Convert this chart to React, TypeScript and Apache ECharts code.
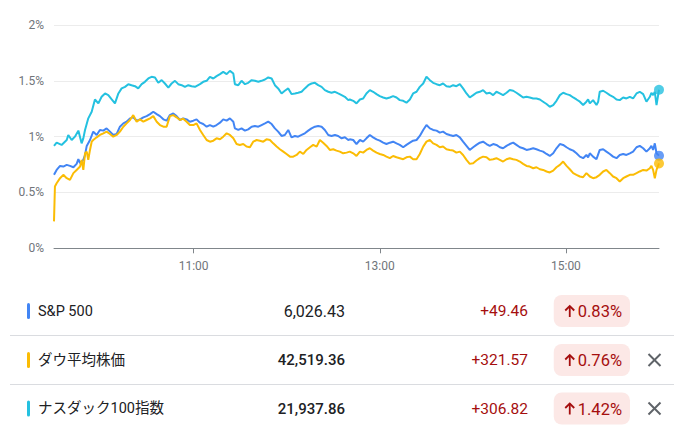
import React, { useEffect, useRef } from "react";
import * as echarts from "echarts";

// minutes since 9:30 open, % change
const sp500: [number, number][] = [
  [0, 0.658], [1.7, 0.702], [3.9, 0.738], [6.0, 0.732], [8.2, 0.747], [10.3, 0.738], [12.5, 0.726], [14.6, 0.756],
  [15.7, 0.798], [16.8, 0.762], [18.9, 0.792], [20.0, 0.836], [21.1, 0.917], [23.2, 0.970], [25.3, 1.045], [27.5, 1.015],
  [29.6, 1.060], [31.8, 1.054], [33.9, 1.074], [36.1, 1.045], [38.2, 1.015], [40.4, 1.024], [42.5, 1.089], [44.7, 1.119],
  [46.8, 1.134], [49.0, 1.164], [51.1, 1.173], [53.3, 1.143], [55.4, 1.155], [57.6, 1.173], [59.7, 1.184], [61.9, 1.202],
  [64.0, 1.223], [66.2, 1.202], [68.3, 1.184], [70.5, 1.155], [72.6, 1.143], [74.7, 1.193], [76.9, 1.208], [79.0, 1.184],
  [81.2, 1.149], [83.3, 1.164], [85.5, 1.155], [87.6, 1.134], [89.8, 1.143], [91.9, 1.155],
  [94.1, 1.125], [96.2, 1.113], [98.4, 1.089], [100.5, 1.104], [102.7, 1.089], [104.8, 1.104], [107.0, 1.125], [109.1, 1.155],
  [111.3, 1.143], [113.4, 1.164], [115.6, 1.134], [116.6, 1.074], [118.8, 1.060], [120.9, 1.074], [123.1, 1.054], [125.2, 1.065],
  [127.4, 1.089], [129.5, 1.095], [131.7, 1.089], [133.8, 1.104], [136.0, 1.119], [138.1, 1.134], [140.3, 1.113], [142.4, 1.074],
  [144.5, 1.045], [146.7, 1.006], [148.8, 1.015], [151.0, 1.060], [153.1, 0.994], [155.3, 1.006], [157.4, 1.000], [159.6, 1.015],
  [161.7, 1.030], [163.9, 1.054], [166.0, 1.074], [168.2, 1.089], [170.3, 1.095], [172.5, 1.089], [174.6, 1.060], [176.8, 1.015],
  [178.9, 1.006], [181.1, 1.015], [183.2, 1.006], [185.4, 0.985], [187.5, 0.994], [189.7, 0.970],
  [190.7, 0.976], [192.9, 0.970], [195.0, 0.934], [197.2, 0.970], [199.3, 0.955], [201.4, 0.985], [203.6, 1.015], [205.7, 0.994],
  [207.9, 0.976], [210.0, 0.964], [212.2, 0.946], [214.3, 0.934], [216.5, 0.946], [218.6, 0.955], [220.8, 0.940], [222.9, 0.926],
  [225.1, 0.905], [227.2, 0.926], [229.4, 0.946], [231.5, 0.964], [233.7, 0.970], [235.8, 1.006], [238.0, 1.060], [240.1, 1.104],
  [242.3, 1.074], [244.4, 1.060], [246.6, 1.054], [248.7, 1.036], [250.8, 1.045], [253.0, 1.024], [255.1, 1.015], [257.3, 1.006],
  [259.4, 1.015], [261.6, 0.994], [263.7, 0.955], [265.9, 0.917], [268.0, 0.881], [270.2, 0.905], [272.3, 0.926], [274.5, 0.946],
  [276.6, 0.955], [278.8, 0.934], [280.9, 0.917], [283.1, 0.934], [285.2, 0.926],
  [287.4, 0.905], [289.5, 0.896], [291.7, 0.917], [293.8, 0.934], [296.0, 0.946], [298.1, 0.926], [300.3, 0.905], [302.4, 0.896],
  [304.6, 0.881], [306.7, 0.887], [308.9, 0.896], [311.0, 0.887], [313.2, 0.875], [315.3, 0.866], [317.5, 0.845], [319.6, 0.827],
  [321.8, 0.851], [323.9, 0.896], [326.1, 0.934], [328.2, 0.926], [330.4, 0.905], [332.5, 0.887], [334.7, 0.875], [336.8, 0.851],
  [339.0, 0.821], [341.1, 0.807], [343.2, 0.836], [344.3, 0.815], [345.4, 0.851], [347.5, 0.821], [349.7, 0.798], [351.8, 0.881],
  [354.0, 0.887], [356.1, 0.866], [358.3, 0.845], [360.4, 0.821], [362.6, 0.807], [364.7, 0.836], [366.9, 0.845], [369.0, 0.836],
  [371.2, 0.851], [373.3, 0.866], [375.5, 0.905], [377.6, 0.917], [379.8, 0.896], [381.9, 0.866], [384.1, 0.896], [385.1, 0.917],
  [386.2, 0.881], [387.3, 0.940], [388.4, 0.851], [390, 0.83],
];

const dow: [number, number][] = [
  [0, 0.241], [0.6, 0.554], [1.7, 0.583], [3.9, 0.628], [6.0, 0.658], [8.2, 0.628], [10.3, 0.613], [12.5, 0.673],
  [14.6, 0.702], [16.8, 0.732], [17.8, 0.792], [18.9, 0.702], [20.0, 0.851], [21.1, 0.866], [22.1, 0.792], [23.2, 0.881],
  [24.3, 0.955], [25.3, 0.970], [27.5, 0.994], [29.6, 1.015], [31.8, 1.030], [33.9, 1.045], [36.1, 1.024], [38.2, 1.000],
  [40.4, 1.015], [42.5, 1.045], [44.7, 1.089], [46.8, 1.119], [49.0, 1.149], [51.1, 1.193], [53.3, 1.134], [55.4, 1.155],
  [57.6, 1.134], [59.7, 1.149], [61.9, 1.164], [64.0, 1.184], [66.2, 1.134], [68.3, 1.104], [70.5, 1.089], [72.6, 1.089],
  [74.7, 1.184], [76.9, 1.193], [79.0, 1.173], [81.2, 1.149], [83.3, 1.161], [85.5, 1.134], [87.6, 1.104], [89.8, 1.104], [91.9, 1.119],
  [94.1, 1.060], [96.2, 1.015], [98.4, 0.970], [100.5, 0.955], [102.7, 0.964], [104.8, 0.985], [107.0, 0.976], [109.1, 1.000],
  [111.3, 1.030], [113.4, 1.015], [115.6, 0.985], [117.7, 0.934], [119.8, 0.926], [122.0, 0.934], [124.1, 0.911], [126.3, 0.905],
  [128.4, 0.955], [130.6, 0.970], [132.7, 0.964], [134.9, 0.955], [137.0, 0.976], [139.2, 0.970], [141.3, 0.940], [143.5, 0.911],
  [145.6, 0.887], [147.8, 0.866], [149.9, 0.845], [152.1, 0.821], [154.2, 0.821], [156.4, 0.836], [158.5, 0.866], [160.7, 0.845],
  [162.8, 0.881], [165.0, 0.905], [167.1, 0.926], [169.3, 0.911], [171.4, 0.970], [173.5, 0.946], [175.7, 0.917], [177.8, 0.881],
  [180.0, 0.887], [182.1, 0.875], [184.3, 0.866], [186.4, 0.851], [188.6, 0.857],
  [190.7, 0.866], [192.9, 0.851], [195.0, 0.827], [197.2, 0.866], [199.3, 0.857], [201.4, 0.881], [203.6, 0.896], [205.7, 0.875],
  [207.9, 0.857], [210.0, 0.845], [212.2, 0.836], [214.3, 0.821], [216.5, 0.807], [218.6, 0.827], [220.8, 0.815], [222.9, 0.807],
  [225.1, 0.798], [227.2, 0.815], [229.4, 0.821], [231.5, 0.798], [233.7, 0.798], [235.8, 0.845], [238.0, 0.911], [240.1, 0.955],
  [242.3, 0.970], [244.4, 0.940], [246.6, 0.926], [248.7, 0.905], [250.8, 0.911], [253.0, 0.887], [255.1, 0.881], [257.3, 0.875],
  [259.4, 0.857], [261.6, 0.866], [263.7, 0.836], [265.9, 0.792], [268.0, 0.756], [270.2, 0.762], [272.3, 0.786], [274.5, 0.807],
  [276.6, 0.821], [278.8, 0.815], [280.9, 0.792], [283.1, 0.798], [285.2, 0.807],
  [287.4, 0.792], [289.5, 0.777], [291.7, 0.798], [293.8, 0.807], [296.0, 0.798], [298.1, 0.792], [300.3, 0.777], [302.4, 0.756],
  [304.6, 0.738], [306.7, 0.732], [308.9, 0.717], [311.0, 0.726], [313.2, 0.708], [315.3, 0.702], [317.5, 0.688], [319.6, 0.679],
  [321.8, 0.696], [323.9, 0.726], [326.1, 0.747], [328.2, 0.777], [330.4, 0.738], [332.5, 0.708], [334.7, 0.673], [336.8, 0.658],
  [339.0, 0.643], [341.1, 0.637], [343.2, 0.673], [344.3, 0.658], [345.4, 0.643], [347.5, 0.628], [349.7, 0.637], [351.8, 0.658],
  [354.0, 0.688], [356.1, 0.702], [358.3, 0.673], [360.4, 0.643], [362.6, 0.628], [364.7, 0.598], [366.9, 0.628], [369.0, 0.643],
  [371.2, 0.658], [373.3, 0.658], [375.5, 0.673], [377.6, 0.688], [379.8, 0.702], [381.9, 0.696], [384.1, 0.717], [385.1, 0.738],
  [386.2, 0.702], [387.3, 0.628], [388.4, 0.702], [390, 0.76],
];

const nasdaq100: [number, number][] = [
  [0, 0.917], [1.7, 0.946], [4.9, 0.926], [8.2, 0.970], [9.2, 1.015], [11.4, 0.970], [13.5, 1.000], [15.7, 1.054],
  [17.8, 0.940], [18.9, 0.985], [20.0, 1.060], [22.1, 1.164], [24.3, 1.223], [26.4, 1.333], [28.6, 1.298], [30.7, 1.357],
  [32.9, 1.387], [35.0, 1.372], [37.2, 1.333], [39.3, 1.298], [41.5, 1.387], [43.6, 1.432], [45.8, 1.446], [47.9, 1.470],
  [50.0, 1.461], [52.2, 1.452], [54.3, 1.432], [56.5, 1.470], [58.6, 1.491], [60.8, 1.521], [62.9, 1.536], [65.1, 1.530],
  [67.2, 1.482], [69.4, 1.506], [71.5, 1.476], [73.7, 1.440], [75.8, 1.476], [78.0, 1.500], [80.1, 1.470], [82.3, 1.461],
  [84.4, 1.446], [86.6, 1.461], [88.7, 1.452], [90.9, 1.446],
  [94.1, 1.470], [96.2, 1.491], [98.4, 1.500], [100.5, 1.536], [102.7, 1.521], [104.8, 1.542], [107.0, 1.560], [109.1, 1.580],
  [111.3, 1.560], [113.4, 1.589], [115.6, 1.565], [116.6, 1.470], [118.8, 1.461], [120.9, 1.500], [123.1, 1.470], [125.2, 1.482],
  [127.4, 1.506], [129.5, 1.500], [131.7, 1.491], [133.8, 1.500], [136.0, 1.512], [138.1, 1.530], [140.3, 1.521], [142.4, 1.461],
  [144.5, 1.432], [146.7, 1.387], [148.8, 1.411], [151.0, 1.432], [153.1, 1.381], [155.3, 1.387], [157.4, 1.393], [159.6, 1.402],
  [161.7, 1.432], [163.9, 1.461], [166.0, 1.476], [168.2, 1.482], [170.3, 1.461], [172.5, 1.446], [174.6, 1.417], [176.8, 1.402],
  [178.9, 1.393], [181.1, 1.402], [183.2, 1.387], [185.4, 1.372], [187.5, 1.357], [189.7, 1.327],
  [190.7, 1.333], [192.9, 1.321], [195.0, 1.298], [197.2, 1.333], [199.3, 1.342], [201.4, 1.387], [203.6, 1.417], [205.7, 1.402],
  [207.9, 1.381], [210.0, 1.363], [212.2, 1.351], [214.3, 1.342], [216.5, 1.351], [218.6, 1.363], [220.8, 1.351], [222.9, 1.327],
  [225.1, 1.321], [227.2, 1.304], [229.4, 1.333], [231.5, 1.387], [233.7, 1.402], [235.8, 1.446], [238.0, 1.476], [240.1, 1.536],
  [242.3, 1.506], [244.4, 1.482], [246.6, 1.470], [248.7, 1.461], [250.8, 1.476], [253.0, 1.452], [255.1, 1.446], [257.3, 1.461],
  [259.4, 1.452], [261.6, 1.470], [263.7, 1.432], [265.9, 1.387], [268.0, 1.351], [270.2, 1.372], [272.3, 1.393], [274.5, 1.402],
  [276.6, 1.417], [278.8, 1.387], [280.9, 1.393], [283.1, 1.372], [285.2, 1.402],
  [287.4, 1.387], [289.5, 1.372], [291.7, 1.393], [293.8, 1.417], [296.0, 1.411], [298.1, 1.393], [300.3, 1.372], [302.4, 1.351],
  [304.6, 1.357], [306.7, 1.351], [308.9, 1.342], [311.0, 1.342], [313.2, 1.333], [315.3, 1.313], [317.5, 1.292], [319.6, 1.268],
  [321.8, 1.283], [323.9, 1.321], [326.1, 1.372], [328.2, 1.393], [330.4, 1.381], [332.5, 1.372], [334.7, 1.351], [336.8, 1.333],
  [339.0, 1.313], [341.1, 1.283], [343.2, 1.313], [344.3, 1.333], [345.4, 1.298], [347.5, 1.327], [349.7, 1.283], [350.8, 1.313],
  [351.8, 1.402], [354.0, 1.411], [356.1, 1.393], [358.3, 1.372], [360.4, 1.357], [362.6, 1.333], [364.7, 1.327], [366.9, 1.351],
  [369.0, 1.342], [371.2, 1.357], [373.3, 1.342], [375.5, 1.387], [377.6, 1.402], [379.8, 1.381], [381.9, 1.313], [384.1, 1.357],
  [385.1, 1.393], [386.2, 1.372], [387.3, 1.402], [388.4, 1.283], [390, 1.42],
];

const xTickMinutes = [90, 210, 330];
const xTickLabels = ["11:00", "13:00", "15:00"];

const names = ["S&P 500", "ダウ平均株価", "ナスダック100指数"];
const prices = ["6,026.43", "42,519.36", "21,937.86"];
const changes = ["+49.46", "+321.57", "+306.82"];
const pctChanges = ["0.83%", "0.76%", "1.42%"];
const closable = [false, true, true];

const COLORS = ["#4285f4", "#fbbc04", "#24c1e0"];
const FONT = "Roboto, 'Noto Sans CJK JP', sans-serif";

function measure(text: string, size: number, weight = 400): number {
  const c = document.createElement("canvas").getContext("2d");
  if (!c) return text.length * size * 0.55;
  c.font = `${weight} ${size}px Roboto`;
  return c.measureText(text).width;
}

export default function App() {
  const ref = useRef<HTMLDivElement>(null);
  useEffect(() => {
    if (!ref.current) return;
    const chart = echarts.init(ref.current, undefined, { renderer: "svg" });
    const seriesData = [sp500, dow, nasdaq100];
    const rowY = [311, 360, 408.5];
    const graphics: any[] = [];
    [335.5, 384.5].forEach((y) => {
      graphics.push({ type: "line", shape: { x1: 10, y1: y, x2: 674, y2: y }, style: { stroke: "#dadce0", lineWidth: 1 } });
    });
    names.forEach((n, i) => {
      const cy = rowY[i];
      graphics.push({ type: "rect", shape: { x: 27, y: cy - 8, width: 3, height: 16, r: 1.5 }, style: { fill: COLORS[i] } });
      graphics.push({ type: "text", x: 38, y: cy, style: { text: n, fontSize: 14.5, fontFamily: FONT, fill: "#202124", verticalAlign: "middle", align: "left" } });
      graphics.push({ type: "text", x: 345, y: cy, style: { text: prices[i], fontSize: i === 0 ? 16 : 15, fontWeight: i === 0 ? 400 : 500, fontFamily: FONT, fill: "#202124", verticalAlign: "middle", align: "right" } });
      graphics.push({ type: "text", x: 528, y: cy, style: { text: changes[i], fontSize: 15.5, fontFamily: FONT, fill: "#a50e0e", verticalAlign: "middle", align: "right" } });
      const tw = measure(pctChanges[i], 16.5);
      const textRight = 622;
      const arrowX = textRight - tw - 8;
      const badgeLeft = arrowX - 16;
      graphics.push({ type: "rect", shape: { x: badgeLeft, y: cy - 16, width: 630 - badgeLeft, height: 32, r: 8 }, style: { fill: "#fce8e6" } });
      graphics.push({ type: "line", shape: { x1: arrowX, y1: cy - 5, x2: arrowX, y2: cy + 6 }, style: { stroke: "#a50e0e", lineWidth: 1.8 } });
      graphics.push({ type: "polyline", shape: { points: [[arrowX - 4.5, cy - 0.5], [arrowX, cy - 5], [arrowX + 4.5, cy - 0.5]] }, style: { stroke: "#a50e0e", lineWidth: 1.8, fill: "none" } });
      graphics.push({ type: "text", x: textRight, y: cy + 0.5, style: { text: pctChanges[i], fontSize: 16.5, fontFamily: FONT, fill: "#a50e0e", verticalAlign: "middle", align: "right" } });
      if (closable[i]) {
        graphics.push({ type: "line", shape: { x1: 648.5, y1: cy - 6, x2: 660.5, y2: cy + 6 }, style: { stroke: "#5f6368", lineWidth: 2 } });
        graphics.push({ type: "line", shape: { x1: 660.5, y1: cy - 6, x2: 648.5, y2: cy + 6 }, style: { stroke: "#5f6368", lineWidth: 2 } });
      }
    });

    chart.setOption({
      animation: false,
      backgroundColor: "#ffffff",
      grid: { left: 54, right: 15, top: 25, bottom: 183.7 },
      xAxis: {
        type: "value",
        min: 0,
        max: 390,
        axisLine: { show: true, lineStyle: { color: "#80868b", width: 1 } },
        axisTick: { show: true, customValues: xTickMinutes, length: 5, lineStyle: { color: "#80868b" } },
        axisLabel: {
          customValues: xTickMinutes,
          color: "#70757a",
          fontSize: 12,
          fontFamily: FONT,
          margin: 12,
          formatter: (v: number) => xTickLabels[xTickMinutes.indexOf(v)] ?? "",
        },
        splitLine: { show: false },
      },
      yAxis: {
        type: "value",
        min: 0,
        max: 2,
        interval: 0.5,
        axisLine: { show: false },
        axisTick: { show: false },
        axisLabel: { color: "#70757a", fontSize: 12, fontFamily: FONT, margin: 10, formatter: (v: number) => `${v}%` },
        splitLine: { lineStyle: { color: "#ececec", width: 1 } },
      },
      series: [
        ...seriesData.map((d, i) => ({
          type: "line",
          data: d,
          showSymbol: false,
          lineStyle: { color: COLORS[i], width: 2 },
          itemStyle: { color: COLORS[i] },
          z: 2 + i,
        })),
        ...seriesData.map((d, i) => ({
          type: "scatter",
          data: [d[d.length - 1]],
          symbolSize: 10,
          itemStyle: { color: COLORS[i] },
          z: 10 + i,
        })),
      ],
      graphic: graphics,
    });
    return () => chart.dispose();
  }, []);
  return (
    <div
      ref={ref}
      style={{ position: "fixed", left: 0, top: 0, width: 674, height: 432, background: "#fff" }}
    />
  );
}
